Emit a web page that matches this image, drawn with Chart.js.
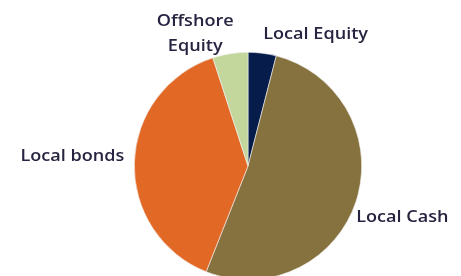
<!DOCTYPE html>
<html>
<head>
<meta charset="utf-8">
<script src="https://cdn.jsdelivr.net/npm/chart.js@4/dist/chart.umd.min.js"></script>
<style>
  html, body { margin: 0; padding: 0; background: #fff; overflow: hidden; }
  #wrap { width: 461px; height: 290px; }
</style>
</head>
<body>
<div id="wrap"><canvas id="pie"></canvas></div>
<script>
const labels = ['Local Equity', 'Local Cash', 'Local bonds', 'Offshore Equity'];
const values = [4, 52, 39, 5];
const colors = ['#061d4c', '#86723f', '#e26826', '#c3d69b'];

// label placement relative to the slice's outer edge at its middle angle
const labelPlacement = [
  { dx: 1, dy: -19, align: 'left', lines: ['Local Equity'] },
  { dx: 0, dy: 16, align: 'left', lines: ['Local Cash'] },
  { dx: -10, dy: -6, align: 'right', lines: ['Local bonds'] },
  { dx: -35, dy: -20, align: 'center', lines: ['Offshore', 'Equity'] }
];
const stretch = 1.13; // source text is a little wider than the font

const outsideLabels = {
  id: 'outsideLabels',
  afterDraw(chart) {
    const { ctx } = chart;
    const arcs = chart.getDatasetMeta(0).data;
    ctx.save();
    ctx.font = '600 16px "Open Sans"';
    ctx.fillStyle = '#262440';
    ctx.textBaseline = 'middle';
    arcs.forEach((arc, i) => {
      const mid = (arc.startAngle + arc.endAngle) / 2;
      const ex = arc.x + Math.cos(mid) * arc.outerRadius;
      const ey = arc.y + Math.sin(mid) * arc.outerRadius;
      const p = labelPlacement[i];
      ctx.textAlign = p.align;
      const lh = 25;
      const y0 = ey + p.dy - (p.lines.length - 1) * lh / 2;
      p.lines.forEach((t, k) => {
        ctx.save();
        ctx.translate(ex + p.dx, y0 + k * lh);
        ctx.scale(stretch, 1);
        ctx.fillText(t, 0, 0);
        ctx.restore();
      });
    });
    ctx.restore();
  }
};

new Chart(document.getElementById('pie'), {
  type: 'pie',
  data: {
    labels,
    datasets: [{
      data: values,
      backgroundColor: colors,
      borderColor: '#f4f4f4',
      borderWidth: 0.6
    }]
  },
  options: {
    responsive: true,
    maintainAspectRatio: false,
    animation: false,
    layout: { padding: { top: 52, bottom: 10, left: 134, right: 99 } },
    plugins: { legend: { display: false }, tooltip: { enabled: false } }
  },
  plugins: [outsideLabels]
});
</script>
</body>
</html>
